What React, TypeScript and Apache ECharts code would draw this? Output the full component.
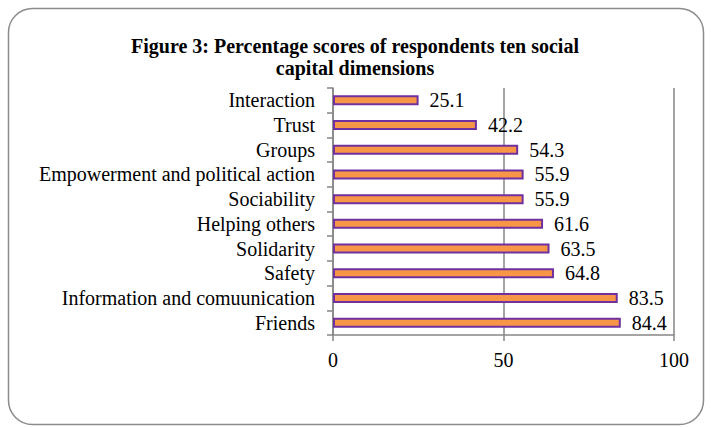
import React, { useEffect, useRef } from "react";
import * as echarts from "echarts";

const categories = [
  "Friends",
  "Information and comuunication",
  "Safety",
  "Solidarity",
  "Helping others",
  "Sociability",
  "Empowerment and political action",
  "Groups",
  "Trust",
  "Interaction",
];
const values = [84.4, 83.5, 64.8, 63.5, 61.6, 55.9, 55.9, 54.3, 42.2, 25.1];
const xTicks = [0, 50, 100];

const FONT = "Liberation Serif";

export default function App() {
  const ref = useRef<HTMLDivElement>(null);
  useEffect(() => {
    if (!ref.current) return;
    const chart = echarts.init(ref.current, null, { renderer: "svg" });
    chart.setOption({
      animation: false,
      backgroundColor: "#ffffff",
      textStyle: { fontFamily: FONT },
      graphic: [
        {
          type: "rect",
          shape: { x: 8.5, y: 8.5, width: 695, height: 416, r: 24 },
          style: { fill: "none", stroke: "#8c8c8c", lineWidth: 1.5 },
          silent: true,
        },
      ],
      title: {
        text: "Figure 3: Percentage scores of respondents ten social\ncapital dimensions",
        left: 355,
        top: 35,
        padding: 0,
        textAlign: "center",
        textStyle: {
          fontFamily: FONT,
          fontWeight: "bold",
          fontSize: 20,
          color: "#000",
          lineHeight: 22,
        },
      },
      grid: { left: 333, right: 37, top: 88, bottom: 92, containLabel: false },
      xAxis: {
        type: "value",
        min: 0,
        max: 100,
        interval: 50,
        axisLine: { show: true, lineStyle: { color: "#868686", width: 1.5 } },
        axisTick: { show: true, length: 6, lineStyle: { color: "#868686", width: 1.5 } },
        splitLine: { show: true, lineStyle: { color: "#868686", width: 1.5 } },
        axisLabel: {
          fontFamily: FONT,
          fontSize: 20,
          color: "#000",
          margin: 15,
          formatter: (v: number) => (xTicks.includes(v) ? String(v) : ""),
        },
      },
      yAxis: {
        type: "category",
        data: categories,
        axisLine: { show: true, lineStyle: { color: "#868686", width: 1.5 } },
        axisTick: { show: true, length: 6, interval: 0, lineStyle: { color: "#868686", width: 1.5 } },
        axisLabel: {
          interval: 0,
          fontFamily: FONT,
          fontSize: 20,
          color: "#000",
          margin: 18,
        },
      },
      series: [
        {
          type: "bar",
          data: values,
          barWidth: 10,
          itemStyle: {
            color: "#F79646",
            borderColor: "#7030A0",
            borderWidth: 2,
          },
          label: {
            show: true,
            position: "right",
            distance: 11,
            fontFamily: FONT,
            fontSize: 20,
            color: "#000",
            formatter: (p: any) => p.value.toFixed(1),
          },
        },
      ],
    });
    return () => chart.dispose();
  }, []);
  return <div ref={ref} style={{ width: 711, height: 427, position: "absolute", left: 0, top: 0 }} />;
}
